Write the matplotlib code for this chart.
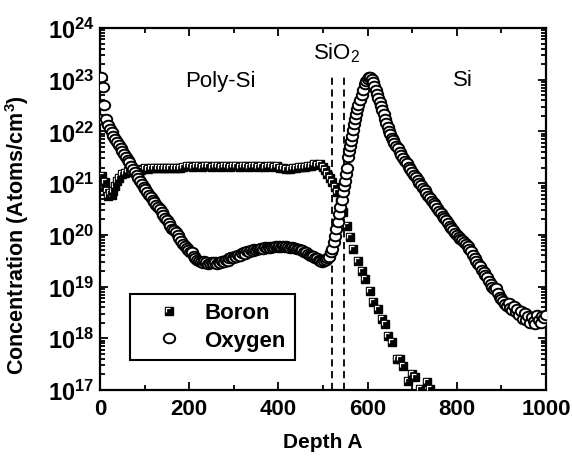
import numpy as np
import matplotlib
matplotlib.use("Agg")
import matplotlib.pyplot as plt
from matplotlib.path import Path
from matplotlib.lines import Line2D
from matplotlib.ticker import LogLocator, FixedLocator, MultipleLocator, NullFormatter

plt.rcParams['font.family'] = ['Liberation Sans', 'DejaVu Sans']
plt.rcParams['mathtext.fontset'] = 'custom'
plt.rcParams['mathtext.rm'] = 'Liberation Sans'
plt.rcParams['mathtext.bf'] = 'Liberation Sans:bold'

# SIMS depth profile (log10 of atoms/cm^3)
boron_depth = [0, 4, 8, 11, 15, 18, 22, 26, 29, 33, 38, 43, 49, 55, 63, 70, 77, 85, 92,
               101, 108, 115, 122, 130, 137, 144, 151, 158, 165, 172, 180, 187, 194,
               201, 208, 215, 222, 229, 236, 243, 250, 257, 264, 271, 278, 285, 292,
               299, 306, 313, 320, 327, 334, 341, 348, 355, 362, 369, 376, 383, 390,
               397, 404, 411, 418, 425, 432, 439, 446, 453, 460, 467, 474, 480, 486,
               493, 500, 505, 509, 515, 520, 526, 531, 538, 545, 553, 561, 568, 579,
               587, 594, 605, 612, 623, 632, 639, 646, 655, 666, 673, 679, 690, 699,
               706, 717, 733, 740]
boron_log = [21.05, 21.14, 20.95, 21.02, 20.85, 20.76, 20.80, 20.78, 20.85, 20.95, 21.04,
             21.10, 21.18, 21.20, 21.24, 21.22, 21.26, 21.27, 21.26, 21.30, 21.28, 21.29,
             21.30, 21.29, 21.30, 21.30, 21.29, 21.30, 21.29, 21.30, 21.30, 21.32, 21.33,
             21.33, 21.32, 21.33, 21.33, 21.32, 21.33, 21.33, 21.32, 21.33, 21.33, 21.32,
             21.33, 21.33, 21.32, 21.33, 21.33, 21.32, 21.33, 21.33, 21.32, 21.33, 21.33,
             21.32, 21.33, 21.32, 21.33, 21.33, 21.32, 21.33, 21.30, 21.29, 21.28, 21.28,
             21.29, 21.30, 21.31, 21.32, 21.32, 21.33, 21.34, 21.37, 21.36, 21.37, 21.32,
             21.26, 21.18, 21.10, 21.02, 20.93, 20.83, 20.63, 20.44, 20.17, 19.95, 19.72,
             19.50, 19.30, 19.15, 18.92, 18.70, 18.57, 18.37, 18.28, 18.05, 17.93, 17.60,
             17.60, 17.46, 17.18, 17.31, 17.25, 17.02, 17.15, 17.02]

oxygen_depth = [0, 2, 6, 10, 14, 18, 22, 26, 30, 34, 38, 42, 46, 50, 54, 58, 62, 66, 70,
                74, 78, 82, 86, 90, 94, 98, 102, 106, 110, 114, 118, 122, 126, 130, 134,
                138, 142, 146, 150, 154, 158, 162, 166, 170, 174, 178, 182, 186, 190, 194,
                198, 202, 206, 210, 214, 218, 222, 226, 230, 234, 238, 242, 246, 250, 254,
                258, 262, 266, 270, 274, 278, 282, 286, 290, 294, 298, 302, 306, 310, 314,
                318, 322, 326, 330, 334, 338, 342, 346, 350, 354, 358, 362, 366, 370, 374,
                378, 382, 386, 390, 394, 398, 402, 406, 410, 414, 418, 422, 426, 430, 434,
                438, 442, 446, 450, 454, 458, 462, 466, 470, 474, 478, 482, 486, 490, 494,
                498, 502, 506, 510, 514, 518, 521, 524, 527, 530, 533, 536, 539, 542, 545,
                547, 549, 551, 553, 556, 559, 561, 563, 565, 567, 569, 571, 573, 576, 579,
                583, 587, 590, 594, 597, 600, 603, 606, 609, 612, 615, 618, 621, 624, 627,
                630, 633, 636, 639, 642, 645, 648, 651, 654, 657, 660, 664, 668, 672, 676,
                680, 684, 688, 692, 696, 700, 704, 708, 712, 716, 720, 724, 728, 732, 736,
                740, 744, 748, 752, 756, 760, 764, 768, 772, 776, 780, 784, 788, 792, 796,
                800, 804, 808, 812, 816, 820, 824, 828, 832, 836, 840, 844, 848, 852, 856,
                860, 864, 868, 872, 876, 880, 884, 888, 892, 896, 900, 904, 908, 912, 916,
                920, 924, 928, 932, 936, 940, 944, 948, 952, 956, 960, 964, 968, 972, 976,
                980, 984, 988, 992, 996, 1000]
oxygen_log = [22.25, 23.05, 22.85, 22.52, 22.25, 22.12, 22.05, 21.98, 21.92, 21.86, 21.80,
              21.74, 21.68, 21.62, 21.56, 21.50, 21.45, 21.40, 21.34, 21.28, 21.22, 21.15,
              21.10, 21.04, 20.98, 20.93, 20.88, 20.83, 20.78, 20.73, 20.68, 20.63, 20.58,
              20.53, 20.50, 20.45, 20.38, 20.32, 20.28, 20.22, 20.17, 20.12, 20.10, 20.05,
              20.00, 19.94, 19.88, 19.83, 19.78, 19.74, 19.70, 19.66, 19.66, 19.60, 19.56,
              19.52, 19.50, 19.48, 19.46, 19.50, 19.47, 19.44, 19.46, 19.48, 19.45, 19.47,
              19.44, 19.48, 19.45, 19.50, 19.48, 19.52, 19.50, 19.55, 19.57, 19.55, 19.60,
              19.58, 19.62, 19.60, 19.64, 19.66, 19.63, 19.68, 19.67, 19.70, 19.68, 19.72,
              19.71, 19.73, 19.72, 19.75, 19.73, 19.76, 19.74, 19.77, 19.75, 19.77, 19.76,
              19.78, 19.76, 19.78, 19.77, 19.79, 19.76, 19.78, 19.77, 19.75, 19.77, 19.74,
              19.75, 19.72, 19.73, 19.70, 19.70, 19.67, 19.66, 19.63, 19.62, 19.60, 19.60,
              19.56, 19.55, 19.52, 19.50, 19.48, 19.50, 19.52, 19.55, 19.58, 19.66, 19.73,
              19.86, 19.98, 20.12, 20.25, 20.40, 20.53, 20.68, 20.83, 20.95, 21.04, 21.17,
              21.30, 21.50, 21.62, 21.72, 21.82, 21.92, 22.03, 22.14, 22.24, 22.34, 22.43,
              22.52, 22.61, 22.71, 22.80, 22.91, 22.97, 23.02, 23.05, 23.05, 23.02, 22.96,
              22.88, 22.80, 22.73, 22.65, 22.57, 22.49, 22.41, 22.33, 22.25, 22.17, 22.08,
              22.01, 21.95, 21.88, 21.83, 21.78, 21.72, 21.67, 21.61, 21.55, 21.49, 21.43,
              21.38, 21.32, 21.27, 21.21, 21.16, 21.11, 21.06, 21.01, 20.96, 20.91, 20.86,
              20.81, 20.76, 20.71, 20.66, 20.61, 20.57, 20.52, 20.47, 20.42, 20.37, 20.33,
              20.28, 20.23, 20.18, 20.14, 20.09, 20.04, 20.00, 19.96, 19.92, 19.90, 19.86,
              19.83, 19.78, 19.72, 19.68, 19.62, 19.55, 19.50, 19.44, 19.40, 19.33, 19.28,
              19.22, 19.18, 19.10, 19.05, 19.00, 18.95, 18.98, 18.88, 18.80, 18.76, 18.72,
              18.66, 18.63, 18.68, 18.58, 18.55, 18.62, 18.50, 18.56, 18.45, 18.52, 18.38,
              18.48, 18.35, 18.44, 18.30, 18.42, 18.33, 18.28, 18.45, 18.35, 18.30, 18.43,
              18.40, 18.45]

region_labels = ["Poly-Si", "SiO$_2$", "Si"]
oxide_edges = [520, 547]
x_ticks = [0, 200, 400, 600, 800, 1000]

boron_c = 10.0 ** np.array(boron_log)
oxygen_c = 10.0 ** np.array(oxygen_log)

# markers: slightly flattened circle, and the white corner on the boron squares
circ = Path.unit_circle()
oval = Path(circ.vertices * np.array([1.0, 0.84]), circ.codes)
corner = Path([(-1, -0.4), (-1, 1), (0.4, 1)], [Path.MOVETO, Path.LINETO, Path.LINETO])

sq_style = dict(ls='none', marker='s', ms=5.6, mfc='black', mec='black', mew=1.0)
l_style = dict(ls='none', marker=corner, ms=3.9, mfc='none', mec='white', mew=0.9)
ox_style = dict(ls='none', marker=oval, ms=8.2, mfc='white', mec='black', mew=1.4)

fig = plt.figure(figsize=(5.72, 4.60), dpi=100)
ax = fig.add_axes([100 / 572, 69 / 460, 446 / 572, 362 / 460])

for d, c in zip(boron_depth, boron_c):
    ax.plot(d, c, zorder=3, **sq_style)
    ax.plot(d, c, zorder=3, **l_style)

ax.plot(oxygen_depth, oxygen_c, zorder=4, **ox_style)

for xe in oxide_edges:
    ax.plot([xe, xe], [1e17, 1.15e23], color='black', ls=(0, (4, 2.5)), lw=1.3, zorder=2)

ax.set_yscale('log')
ax.set_xlim(0, 1000)
ax.set_ylim(1e17, 1e24)

ax.xaxis.set_major_locator(FixedLocator(x_ticks))
ax.xaxis.set_minor_locator(MultipleLocator(100))
ax.yaxis.set_minor_locator(LogLocator(base=10, subs=np.arange(2, 10), numticks=20))
ax.yaxis.set_minor_formatter(NullFormatter())
ax.set_xticklabels([str(t) for t in x_ticks])
ax.set_yticks([10.0 ** e for e in range(17, 25)])
ax.set_yticklabels([r'$\mathbf{10^{%d}}$' % e for e in range(17, 25)])

ax.tick_params(which='both', direction='in', top=True, right=True, width=1.3)
ax.tick_params(which='major', length=6)
ax.tick_params(which='minor', length=3.5)
ax.tick_params(axis='x', which='major', labelsize=16, pad=6)
ax.tick_params(axis='y', which='major', labelsize=17, pad=4)
for lab in ax.get_xticklabels():
    lab.set_fontweight('bold')
for s in ax.spines.values():
    s.set_linewidth(1.6)

ax.set_xlabel("Depth A", fontsize=15, fontweight='bold', labelpad=9)
ax.set_ylabel("Concentration (Atoms/cm$^\\mathbf{3}$)", fontsize=15.5, fontweight='bold')
ax.yaxis.set_label_coords(-0.155, 0.43)

ax.text(269, 10 ** 22.98, region_labels[0], fontsize=16, ha='center', va='center')
ax.text(531, 10 ** 23.53, region_labels[1], fontsize=16, ha='center', va='center')
ax.text(814, 10 ** 23.0, region_labels[2], fontsize=16, ha='center', va='center')

h_boron = (Line2D([], [], **sq_style), Line2D([], [], **l_style))
h_oxy = Line2D([], [], **ox_style)
leg = ax.legend([h_boron, h_oxy], ["Boron", "Oxygen"], loc='lower left',
                bbox_to_anchor=(0.067, 0.083), borderaxespad=0, fancybox=False,
                framealpha=1, edgecolor='black', handlelength=2.7, handletextpad=0.25,
                labelspacing=0.3, borderpad=0.4, prop={'weight': 'bold', 'size': 16})
leg.get_frame().set_linewidth(1.5)
leg.set_zorder(5)

fig.savefig("out.png", dpi=100)
